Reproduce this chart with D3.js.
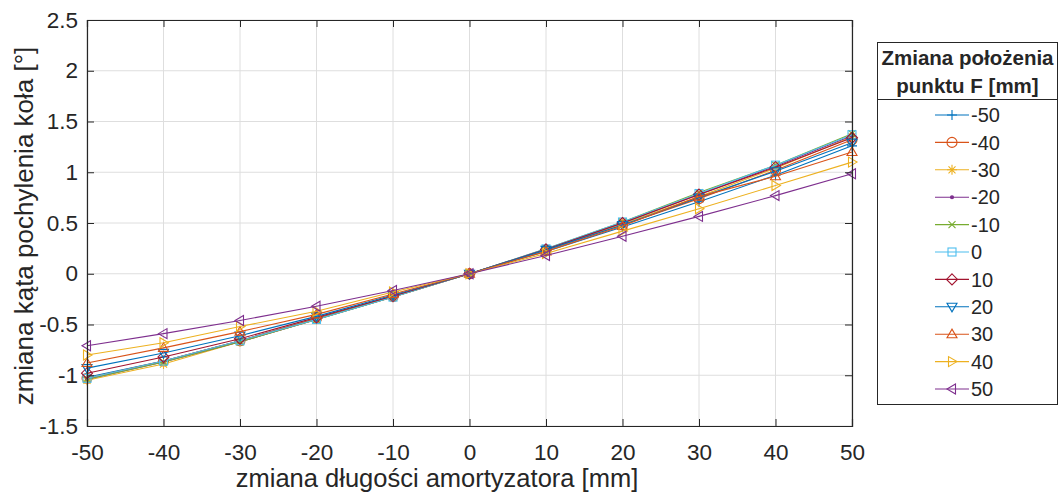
<!DOCTYPE html>
<html><head><meta charset="utf-8">
<script src="https://cdn.jsdelivr.net/npm/d3@7"></script>
<style>body{margin:0;background:#fff}svg{display:block}text{font-family:"Liberation Sans",Arial,sans-serif;fill:#262626}</style>
</head><body>
<svg id="c" width="1061" height="492"></svg>
<script>
const xValues = [-50,-40,-30,-20,-10,0,10,20,30,40,50];
const seriesNames = ["-50","-40","-30","-20","-10","0","10","20","30","40","50"];
const sM50 = [-1.02,-0.86,-0.66,-0.44,-0.22,0,0.22,0.46,0.71,0.97,1.26];
const sM40 = [-1.03,-0.86,-0.66,-0.44,-0.225,0,0.23,0.48,0.74,1.02,1.32];
const sM30 = [-1.05,-0.89,-0.67,-0.45,-0.23,0,0.235,0.49,0.76,1.04,1.35];
const sM20 = [-1.04,-0.87,-0.67,-0.45,-0.23,0,0.24,0.50,0.78,1.06,1.36];
const sM10 = [-1.04,-0.87,-0.67,-0.45,-0.23,0,0.245,0.51,0.80,1.07,1.38];
const s0   = [-1.03,-0.86,-0.66,-0.45,-0.23,0,0.245,0.51,0.79,1.07,1.37];
const s10  = [-0.98,-0.82,-0.64,-0.43,-0.22,0,0.24,0.50,0.78,1.05,1.34];
const s20  = [-0.93,-0.78,-0.61,-0.42,-0.21,0,0.235,0.48,0.75,1.01,1.29];
const s30  = [-0.88,-0.73,-0.57,-0.40,-0.20,0,0.22,0.47,0.76,0.96,1.20];
const s40  = [-0.80,-0.68,-0.52,-0.37,-0.18,0,0.20,0.42,0.64,0.87,1.10];
const s50  = [-0.71,-0.59,-0.46,-0.32,-0.165,0,0.18,0.37,0.565,0.77,0.985];
const seriesValues = [sM50,sM40,sM30,sM20,sM10,s0,s10,s20,s30,s40,s50];
const colors = ["#0072BD","#D95319","#EDB120","#7E2F8E","#77AC30","#4DBEEE","#A2142F","#0072BD","#D95319","#EDB120","#7E2F8E"];
const markers = ["plus","circle","star","dot","cross","square","diamond","down","up","right","left"];
const xTicks = [-50,-40,-30,-20,-10,0,10,20,30,40,50];
const yTicks = [-1.5,-1,-0.5,0,0.5,1,1.5,2,2.5];
const xLabel = "zmiana długości amortyzatora [mm]";
const yLabel = "zmiana kąta pochylenia koła [°]";
const legendTitle = ["Zmiana położenia","punktu F [mm]"];

const svg = d3.select("#c");
const L=87,R=852,T=20,B=426;
const x = d3.scaleLinear().domain([-50,50]).range([L,R]);
const y = d3.scaleLinear().domain([-1.5,2.5]).range([B,T]);
const ax = "#262626";
const fmt = d => String(d);

// grid
const g = svg.append("g");
g.selectAll(".gx").data(xTicks).join("line").attr("x1",d=>x(d)).attr("x2",d=>x(d)).attr("y1",T).attr("y2",B).attr("stroke","#dedede").attr("stroke-width",1);
g.selectAll(".gy").data(yTicks).join("line").attr("y1",d=>y(d)).attr("y2",d=>y(d)).attr("x1",L).attr("x2",R).attr("stroke","#dedede").attr("stroke-width",1);

function markerPath(sel, type, color){
  const r = 5;
  let el;
  switch(type){
    case "plus": el = sel.append("path").attr("d",`M${-r},0H${r}M0,${-r}V${r}`).attr("fill","none"); break;
    case "circle": el = sel.append("circle").attr("r",r).attr("fill","none"); break;
    case "star": el = sel.append("path").attr("d",`M${-r},0H${r}M0,${-r}V${r}M${-r*0.7},${-r*0.7}L${r*0.7},${r*0.7}M${-r*0.7},${r*0.7}L${r*0.7},${-r*0.7}`).attr("fill","none"); break;
    case "dot": el = sel.append("circle").attr("r",1.5).attr("fill",color); break;
    case "cross": el = sel.append("path").attr("d",`M${-r*0.7},${-r*0.7}L${r*0.7},${r*0.7}M${-r*0.7},${r*0.7}L${r*0.7},${-r*0.7}`).attr("fill","none"); break;
    case "square": el = sel.append("rect").attr("x",-r*0.8).attr("y",-r*0.8).attr("width",r*1.6).attr("height",r*1.6).attr("fill","none"); break;
    case "diamond": el = sel.append("path").attr("d",`M0,${-r*1.1}L${r*1.1},0L0,${r*1.1}L${-r*1.1},0Z`).attr("fill","none"); break;
    case "down": el = sel.append("path").attr("d",`M${-r},${-r*0.7}L${r},${-r*0.7}L0,${r*1.0}Z`).attr("fill","none"); break;
    case "up": el = sel.append("path").attr("d",`M${-r},${r*0.7}L${r},${r*0.7}L0,${-r*1.0}Z`).attr("fill","none"); break;
    case "right": el = sel.append("path").attr("d",`M${-r*0.7},${-r}L${-r*0.7},${r}L${r*1.0},0Z`).attr("fill","none"); break;
    case "left": el = sel.append("path").attr("d",`M${r*0.7},${-r}L${r*0.7},${r}L${-r*1.0},0Z`).attr("fill","none"); break;
  }
  el.attr("stroke",color).attr("stroke-width",1.1);
}

const line = d3.line().x((d,i)=>x(xValues[i])).y(d=>y(d));
const plot = svg.append("g");
seriesValues.forEach((vals,k)=>{
  const sg = plot.append("g");
  sg.append("path").datum(vals).attr("d",line).attr("fill","none").attr("stroke",colors[k]).attr("stroke-width",1.1);
  vals.forEach((v,i)=>{
    const m = sg.append("g").attr("transform",`translate(${x(xValues[i])},${y(v)})`);
    markerPath(m, markers[k], colors[k]);
  });
});

// axes
const tl = 7;
const xa = svg.append("g").attr("transform",`translate(0,${B})`)
  .call(d3.axisBottom(x).tickValues(xTicks).tickSize(-tl).tickPadding(18).tickFormat(fmt));
const xt = svg.append("g").attr("transform",`translate(0,${T})`)
  .call(d3.axisTop(x).tickValues(xTicks).tickSize(-tl).tickFormat(""));
const ya = svg.append("g").attr("transform",`translate(${L},0)`)
  .call(d3.axisLeft(y).tickValues(yTicks).tickSize(-tl).tickPadding(9).tickFormat(fmt));
const yr = svg.append("g").attr("transform",`translate(${R},0)`)
  .call(d3.axisRight(y).tickValues(yTicks).tickSize(-tl).tickFormat(""));
[xa,xt,ya,yr].forEach(a=>{
  a.select(".domain").attr("stroke",ax).attr("stroke-width",1.2);
  a.selectAll(".tick line").attr("stroke",ax);
  a.selectAll("text").style("font-size","22.5px").attr("fill",ax).style("font-family","'Liberation Sans',Arial,sans-serif");
});
xa.selectAll("text").attr("dy","0.71em");

svg.append("text").attr("x",437).attr("y",487).attr("text-anchor","middle").style("font-size","25.5px").text(xLabel);
svg.append("text").attr("transform",`translate(33,226) rotate(-90)`).attr("text-anchor","middle").style("font-size","26px").text(yLabel);

// legend
const lg = svg.append("g");
lg.append("rect").attr("x",877.5).attr("y",42.5).attr("width",180).attr("height",362).attr("fill","#fff").attr("stroke",ax).attr("stroke-width",1);
lg.append("line").attr("x1",877.5).attr("x2",1057.5).attr("y1",99.5).attr("y2",99.5).attr("stroke",ax);
legendTitle.forEach((t,i)=>{
  lg.append("text").attr("x",967.5).attr("y",65+i*27.5).attr("text-anchor","middle").style("font-size","20.5px").style("font-weight","bold").text(t);
});
seriesNames.forEach((n,k)=>{
  const yy = 115 + k*27.4;
  lg.append("line").attr("x1",935).attr("x2",969).attr("y1",yy).attr("y2",yy).attr("stroke",colors[k]).attr("stroke-width",1.1);
  const m = lg.append("g").attr("transform",`translate(952,${yy})`);
  markerPath(m, markers[k], colors[k]);
  lg.append("text").attr("x",971).attr("y",yy).attr("dy","0.36em").style("font-size","20px").text(n);
});
</script>
</body></html>
